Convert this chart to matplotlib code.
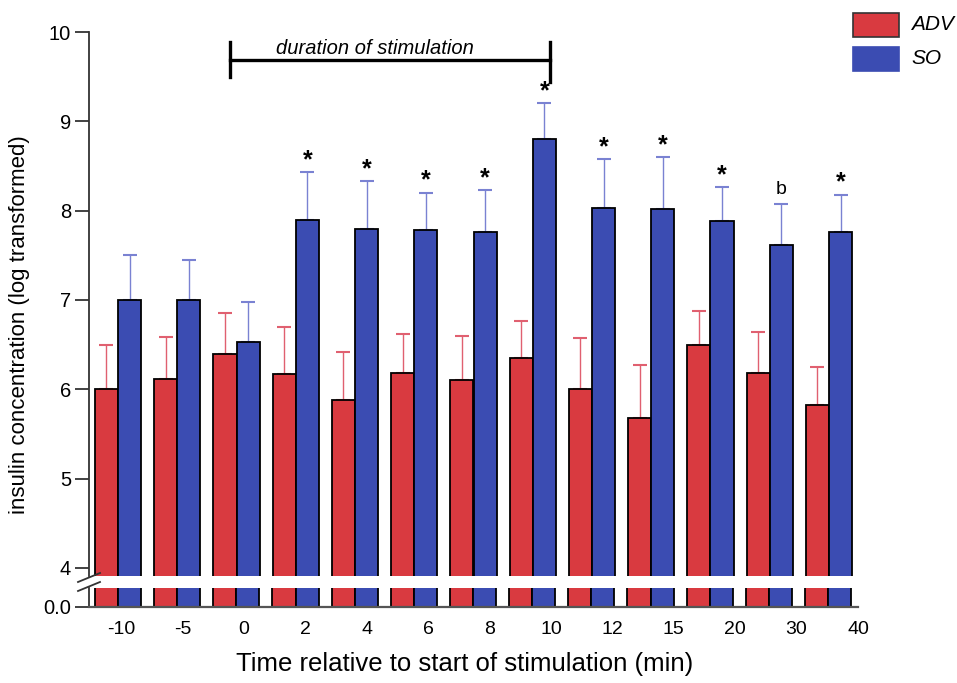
import numpy as np
import matplotlib.pyplot as plt
from matplotlib.lines import Line2D

plt.rcParams['font.family'] = ['Liberation Sans', 'DejaVu Sans']

# time points (min) relative to start of stimulation
times = ['-10', '-5', '0', '2', '4', '6', '8', '10', '12', '15', '20', '30', '40']
adv = [6.00, 6.12, 6.40, 6.17, 5.88, 6.18, 6.10, 6.35, 6.00, 5.68, 6.50, 6.18, 5.82]
adv_err = [0.50, 0.46, 0.45, 0.53, 0.54, 0.44, 0.50, 0.42, 0.57, 0.59, 0.38, 0.46, 0.43]
so = [7.00, 7.00, 6.53, 7.90, 7.80, 7.78, 7.76, 8.80, 8.03, 8.02, 7.88, 7.62, 7.76]
so_err = [0.50, 0.45, 0.45, 0.53, 0.53, 0.42, 0.47, 0.40, 0.55, 0.58, 0.38, 0.46, 0.42]
marks = ['', '', '', '*', '*', '*', '*', '*', '*', '*', '*', 'b', '*']

red = '#d93a40'
blue = '#3b4cb2'
x = np.arange(len(times))
w = 0.39
# tick labels sit on a slightly wider spacing than the bar groups
tick_pos = 0.05 + x * 1.038

W, H = 957, 683
fig = plt.figure(figsize=(W / 100, H / 100), dpi=100)
L, R = 89, 858
ax = fig.add_axes([L / W, 1 - 576 / H, (R - L) / W, (576 - 32) / H])
ax2 = fig.add_axes([L / W, 1 - 607 / H, (R - L) / W, (607 - 588) / H])

for a in (ax, ax2):
    a.bar(x - w / 2, adv, w, color=red, edgecolor='black', linewidth=1.3, zorder=2)
    a.bar(x + w / 2, so, w, color=blue, edgecolor='black', linewidth=1.3, zorder=2)
    a.set_xlim(-0.49, 12.49)
    for s in ('top', 'right'):
        a.spines[s].set_visible(False)
    a.spines['left'].set_linewidth(1.3)
    a.spines['left'].set_color('#333333')
    a.tick_params(axis='y', direction='out', length=10, width=1.3,
                  color='#333333', labelsize=14.5, pad=3)

ax.errorbar(x - w / 2, adv, yerr=[np.zeros(len(x)), adv_err], fmt='none',
            ecolor='#e06070', elinewidth=1, capsize=4.7, capthick=1.5, zorder=1)
ax.errorbar(x + w / 2, so, yerr=[np.zeros(len(x)), so_err], fmt='none',
            ecolor='#7a82d2', elinewidth=1, capsize=4.7, capthick=1.5, zorder=1)

ax.set_ylim(3.91, 10)
ax.set_yticks([4, 5, 6, 7, 8, 9, 10])
ax.spines['bottom'].set_visible(False)
ax.spines['left'].set_bounds(3.91, 10)
ax.tick_params(axis='x', bottom=False, labelbottom=False)

ax2.set_ylim(0, 0.21)
ax2.set_yticks([0])
ax2.set_yticklabels(['0.0'])
ax2.set_xticks(tick_pos)
ax2.set_xticklabels(times, fontsize=14)
ax2.tick_params(axis='x', length=0, pad=10)
ax2.spines['bottom'].set_linewidth(1.6)
ax2.spines['bottom'].set_color('#555555')

# significance marks above the SO bars
for i, m in enumerate(marks):
    if not m:
        continue
    top = so[i] + so_err[i]
    if m == '*':
        ax.text(x[i] + w / 2, top + 0.0, m, ha='center', va='bottom',
                fontsize=18, fontweight='bold')
    else:
        ax.text(x[i] + w / 2, top + 0.06, m, ha='center', va='bottom',
                fontsize=14)

# duration of stimulation bracket
ax.plot([1.89, 7.29], [9.687, 9.687], color='black', lw=2.4, clip_on=False)
ax.plot([1.89, 1.89], [9.496, 9.888], color='black', lw=2.4, clip_on=False)
ax.plot([7.29, 7.29], [9.44, 9.888], color='black', lw=2.4, clip_on=False)
ax.text(4.34, 9.71, 'duration of stimulation', ha='center', va='bottom',
        fontsize=14.5, style='italic')

# axis break marks
for y0, y1 in ((582, 573), (591, 582)):
    fig.add_artist(Line2D([78 / W, 100 / W], [1 - y0 / H, 1 - y1 / H],
                          color='#333333', lw=1.3))

fig.text(20 / W, 1 - 325 / H, 'insulin concentration (log transformed)',
         rotation=90, ha='center', va='center', fontsize=16)
fig.text(465 / W, 1 - 664 / H, 'Time relative to start of stimulation (min)',
         ha='center', va='center', fontsize=18.5)

# legend
for yc, col, lab in ((25, red, 'ADV'), (59, blue, 'SO')):
    fig.patches.append(plt.Rectangle((853 / W, 1 - (yc + 12) / H), 46 / W, 24 / H,
                                     transform=fig.transFigure, facecolor=col,
                                     edgecolor='#333333' if col == red else col, lw=1.2))
    fig.text(911 / W, 1 - yc / H, lab, ha='left', va='center', fontsize=15,
             style='italic')

fig.savefig('out.png', dpi=100)
